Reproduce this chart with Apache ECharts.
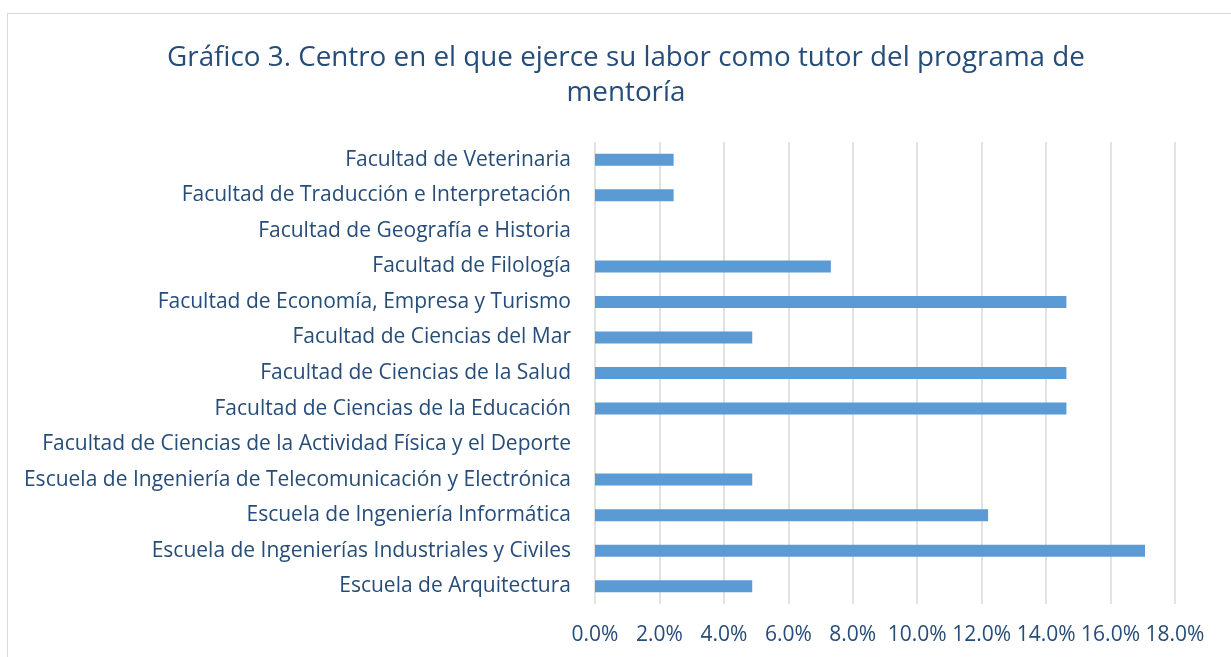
<!DOCTYPE html>
<html>
<head>
<meta charset="utf-8">
<script src="https://cdn.jsdelivr.net/npm/echarts@6/dist/echarts.min.js"></script>
<style>
  html, body { margin: 0; padding: 0; background: #fff; }
  #frame { position: absolute; left: 7px; top: 13px; width: 1240px; height: 660px; border: 1px solid #d9d9d9; box-sizing: border-box; }
  #main { position: absolute; left: 0; top: 0; width: 1231px; height: 657px; }
</style>
</head>
<body>
<div id="frame"></div>
<div id="main"></div>
<script>
// categories from bottom to top, as the chart lists them
var centros = [
  'Escuela de Arquitectura',
  'Escuela de Ingenierías Industriales y Civiles',
  'Escuela de Ingeniería Informática',
  'Escuela de Ingeniería de Telecomunicación y Electrónica',
  'Facultad de Ciencias de la Actividad Física y el Deporte',
  'Facultad de Ciencias de la Educación',
  'Facultad de Ciencias de la Salud',
  'Facultad de Ciencias del Mar',
  'Facultad de Economía, Empresa y Turismo',
  'Facultad de Filología',
  'Facultad de Geografía e Historia',
  'Facultad de Traducción e Interpretación',
  'Facultad de Veterinaria'
];
// percentage of tutors per centre
var porcentajes = [4.88, 17.07, 12.2, 4.88, 0, 14.63, 14.63, 4.88, 14.63, 7.32, 0, 2.44, 2.44];

var textColor = '#264d7a';
var font = 'Open Sans';

var chart = echarts.init(document.getElementById('main'));
chart.setOption({
  animation: false,
  title: {
    text: 'Gráfico 3. Centro en el que ejerce su labor como tutor del programa de\nmentoría',
    left: 621,
    textAlign: 'center',
    top: 36,
    textStyle: {
      color: textColor,
      fontFamily: font,
      fontSize: 27.8,
      fontWeight: 'normal',
      lineHeight: 35
    }
  },
  grid: {
    left: 595,
    right: 56,
    top: 142,
    bottom: 53
  },
  xAxis: {
    type: 'value',
    min: 0,
    max: 18,
    interval: 2,
    axisLine: { show: false },
    axisTick: { show: false },
    splitLine: { lineStyle: { color: '#d9d9d9', width: 1.5 } },
    axisLabel: {
      formatter: function (v) { return v.toFixed(1) + '%'; },
      color: textColor,
      fontFamily: font,
      fontSize: 21,
      margin: 21
    }
  },
  yAxis: {
    type: 'category',
    data: centros,
    axisLine: { show: false },
    axisTick: { show: false },
    axisLabel: {
      color: textColor,
      fontFamily: font,
      fontSize: 21,
      margin: 24
    }
  },
  series: [{
    type: 'bar',
    data: porcentajes,
    barWidth: 12,
    itemStyle: { color: '#5b9bd5' }
  }]
});
</script>
</body>
</html>
